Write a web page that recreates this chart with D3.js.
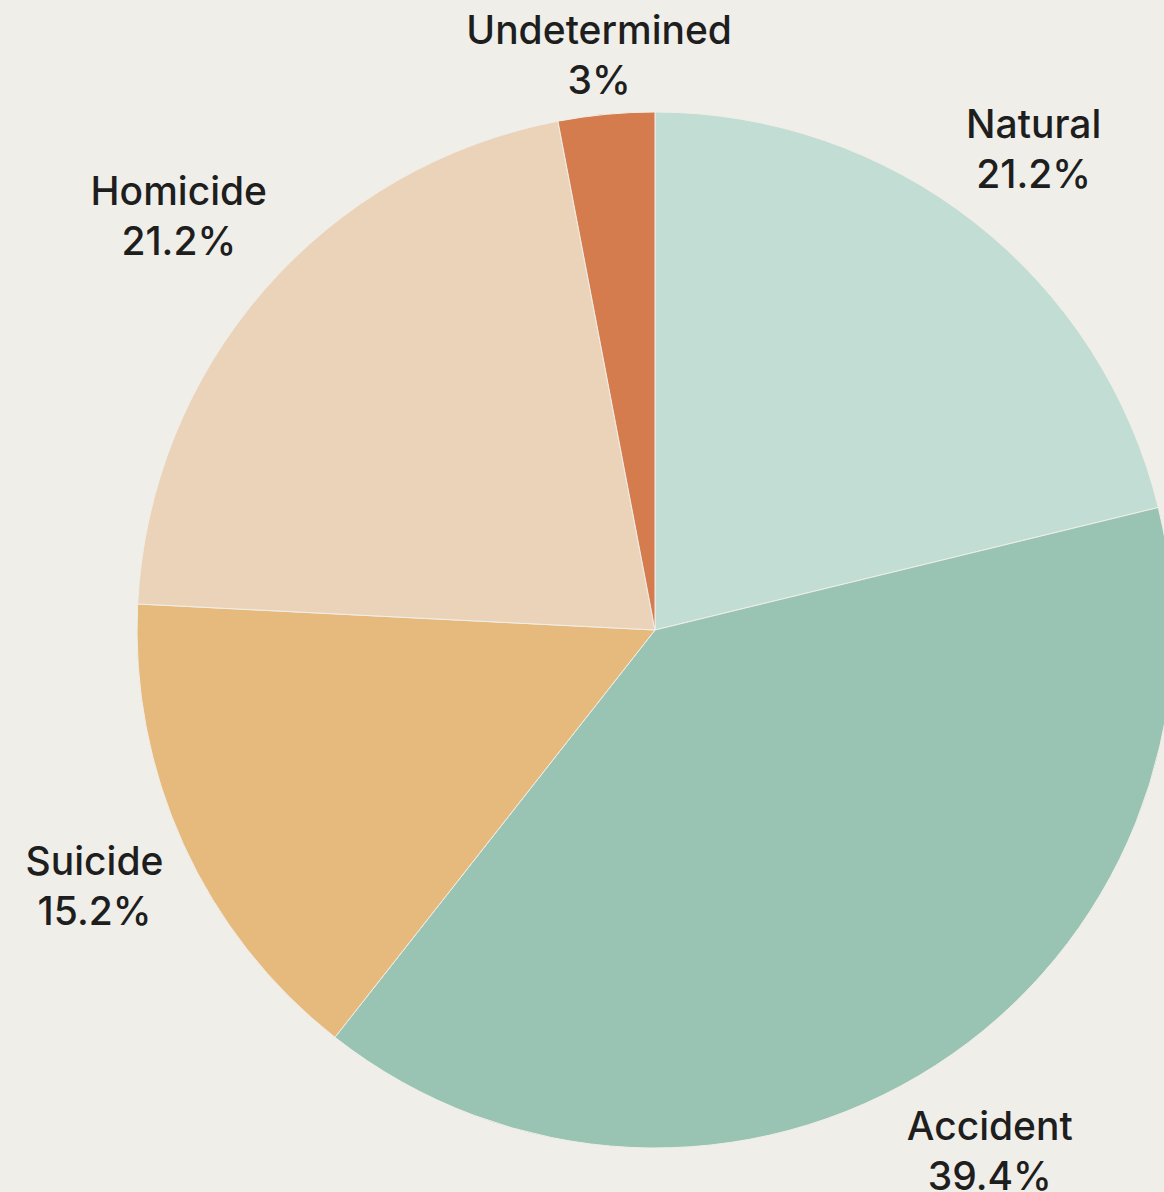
<!DOCTYPE html>
<html>
<head>
<meta charset="utf-8">
<script src="https://cdn.jsdelivr.net/npm/d3@7"></script>
<style>
  html, body { margin: 0; padding: 0; background: #f0eee8; }
  svg { display: block; }
  text { font-family: Inter, "Noto Sans", sans-serif; fill: #1e1e1e; }
</style>
</head>
<body>
<div id="chart"></div>
<script>
// manner of death, clockwise from 12 o'clock
var categories = ["Natural", "Accident", "Suicide", "Homicide", "Undetermined"];
var values = [21.2, 39.4, 15.2, 21.2, 3];
var labels = ["21.2%", "39.4%", "15.2%", "21.2%", "3%"];
var colors = ["#c2ddd4", "#99c4b4", "#e6b97d", "#ebd3ba", "#d57c4f"];

var width = 1164, height = 1192;
var cx = 655, cy = 630;
var radius = 518;
var gap = 15;        // space between pie edge and label box
var lineH = 50;
var topPad = 6;      // keep labels below the top edge

var svg = d3.select("#chart").append("svg")
    .attr("width", width)
    .attr("height", height);

var g = svg.append("g").attr("transform", "translate(" + cx + "," + cy + ")");

var pie = d3.pie().sort(null).value(function(d) { return d; });
var arcs = pie(values);

var arc = d3.arc().innerRadius(0).outerRadius(radius);

g.selectAll("path")
  .data(arcs)
  .enter().append("path")
    .attr("d", arc)
    .attr("fill", function(d, i) { return colors[i]; })
    .attr("stroke", "#f0eee8")
    .attr("stroke-width", 1);

var lbl = g.selectAll("text.lbl")
  .data(arcs)
  .enter().append("text")
    .attr("class", "lbl")
    .attr("text-anchor", "middle")
    .attr("font-size", 39)
    .attr("font-weight", 500);

lbl.append("tspan")
    .attr("x", 0)
    .attr("y", 0)
    .text(function(d, i) { return categories[i]; });
lbl.append("tspan")
    .attr("x", 0)
    .attr("y", lineH)
    .text(function(d, i) { return labels[i]; });

// push each label box just outside the pie along its mid-angle
lbl.each(function(d) {
  var bb = this.getBBox();
  var a = (d.startAngle + d.endAngle) / 2;
  var dx = Math.sin(a), dy = -Math.cos(a);
  var dist = radius + gap + Math.abs(dx) * bb.width / 2 + Math.abs(dy) * bb.height / 2;
  var tx = dx * dist - (bb.x + bb.width / 2);
  var ty = dy * dist - (bb.y + bb.height / 2);
  if (cy + ty + bb.y < topPad) ty = topPad - cy - bb.y;
  d3.select(this).attr("transform", "translate(" + tx + "," + ty + ")");
});
</script>
</body>
</html>
